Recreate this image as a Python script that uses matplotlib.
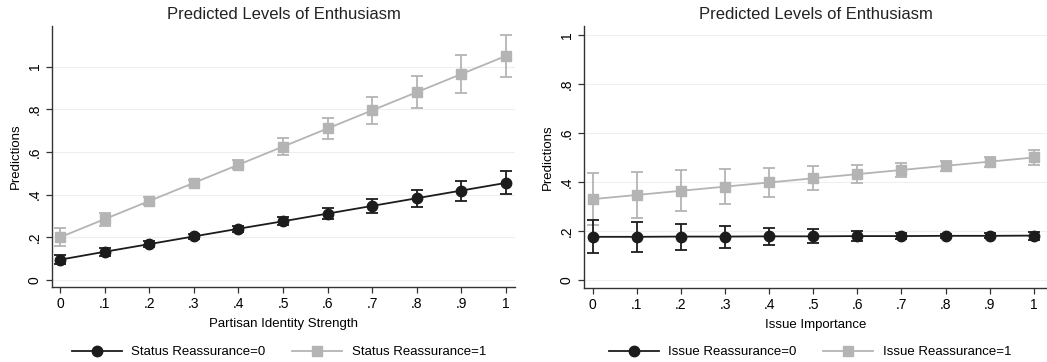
import matplotlib
matplotlib.use("Agg")
import matplotlib.pyplot as plt
from matplotlib.lines import Line2D

plt.rcParams["font.family"] = ["Liberation Sans", "DejaVu Sans"]

# x grid shared by both panels
x = [0, .1, .2, .3, .4, .5, .6, .7, .8, .9, 1]
x_labels = ["0", ".1", ".2", ".3", ".4", ".5", ".6", ".7", ".8", ".9", "1"]

# left panel: partisan identity strength
status0 = [0.095, 0.132, 0.168, 0.204, 0.240, 0.275, 0.311, 0.347, 0.383, 0.419, 0.455]
status0_err = [0.022, 0.018, 0.013, 0.012, 0.013, 0.018, 0.025, 0.033, 0.040, 0.047, 0.054]
status1 = [0.200, 0.285, 0.370, 0.455, 0.540, 0.625, 0.710, 0.795, 0.880, 0.965, 1.050]
status1_err = [0.042, 0.030, 0.018, 0.015, 0.020, 0.040, 0.049, 0.062, 0.074, 0.087, 0.100]

# right panel: issue importance
issue0 = [0.176, 0.176, 0.177, 0.177, 0.178, 0.178, 0.179, 0.179, 0.180, 0.180, 0.181]
issue0_err = [0.068, 0.060, 0.053, 0.045, 0.036, 0.028, 0.020, 0.013, 0.008, 0.010, 0.016]
issue1 = [0.330, 0.347, 0.364, 0.381, 0.398, 0.415, 0.432, 0.449, 0.466, 0.483, 0.500]
issue1_err = [0.107, 0.095, 0.083, 0.072, 0.060, 0.049, 0.038, 0.028, 0.020, 0.020, 0.032]

y_ticks = [0, .2, .4, .6, .8, 1]
y_labels = ["0", ".2", ".4", ".6", ".8", "1"]

BLACK = "#1c1c1c"
GRAY = "#b4b4b4"
W, H = 1047, 362


def panel(rect, s0, e0, s1, e1, xlabel, name, ylim, xlim, leg_x):
    ax = fig.add_axes(rect)
    for yt in y_ticks:
        ax.axhline(yt, color="#efefef", lw=0.8, zorder=0)
    ax.errorbar(x, s1, yerr=e1, color=GRAY, marker="s", ms=7.5, lw=1.3,
                elinewidth=1.3, capsize=4, capthick=1.3, zorder=2)
    ax.errorbar(x, s0, yerr=e0, color=BLACK, marker="o", ms=7.5, lw=1.3,
                elinewidth=1.3, capsize=4, capthick=1.3, zorder=3)
    ax.set_xlim(*xlim)
    ax.set_ylim(*ylim)
    ax.set_xticks(x)
    ax.set_xticklabels(x_labels, fontsize=10)
    ax.set_yticks(y_ticks)
    ax.set_yticklabels(y_labels, fontsize=10, rotation=90, va="center")
    for sp in ("top", "right"):
        ax.spines[sp].set_visible(False)
    for sp in ("left", "bottom"):
        ax.spines[sp].set_color("#333333")
        ax.spines[sp].set_linewidth(1.0)
    ax.tick_params(direction="out", length=4, color="#333333", width=0.9)
    ax.set_title("Predicted Levels of Enthusiasm", fontsize=12, color="#222222", pad=5)
    ax.set_ylabel("Predictions", fontsize=9.5, labelpad=4)
    ax.set_xlabel(xlabel, fontsize=9.5, labelpad=5)
    handles = [
        Line2D([], [], color=BLACK, marker="o", ms=7.5, lw=1.3),
        Line2D([], [], color=GRAY, marker="s", ms=7.5, lw=1.3),
    ]
    fig.legend(handles, [name + "=0", name + "=1"], loc="center",
               bbox_to_anchor=(leg_x / W, 1 - 352 / H), ncol=2, frameon=False,
               fontsize=9.5, handlelength=3.8, columnspacing=2.0,
               handletextpad=0.7, borderpad=0.1)
    return ax


fig = plt.figure(figsize=(W / 100, H / 100), dpi=100)
fig.patch.set_facecolor("white")

panel([52 / W, 1 - 287 / H, (515 - 52) / W, (287 - 26) / H],
      status0, status0_err, status1, status1_err,
      "Partisan Identity Strength", "Status Reassurance",
      (-0.033, 1.19), (-0.018, 1.02), 279)
panel([584 / W, 1 - 288 / H, (1047 - 584) / W, (288 - 26) / H],
      issue0, issue0_err, issue1, issue1_err,
      "Issue Importance", "Issue Reassurance",
      (-0.033, 1.037), (-0.02, 1.03), 810)

fig.savefig("out.png", dpi=100)
